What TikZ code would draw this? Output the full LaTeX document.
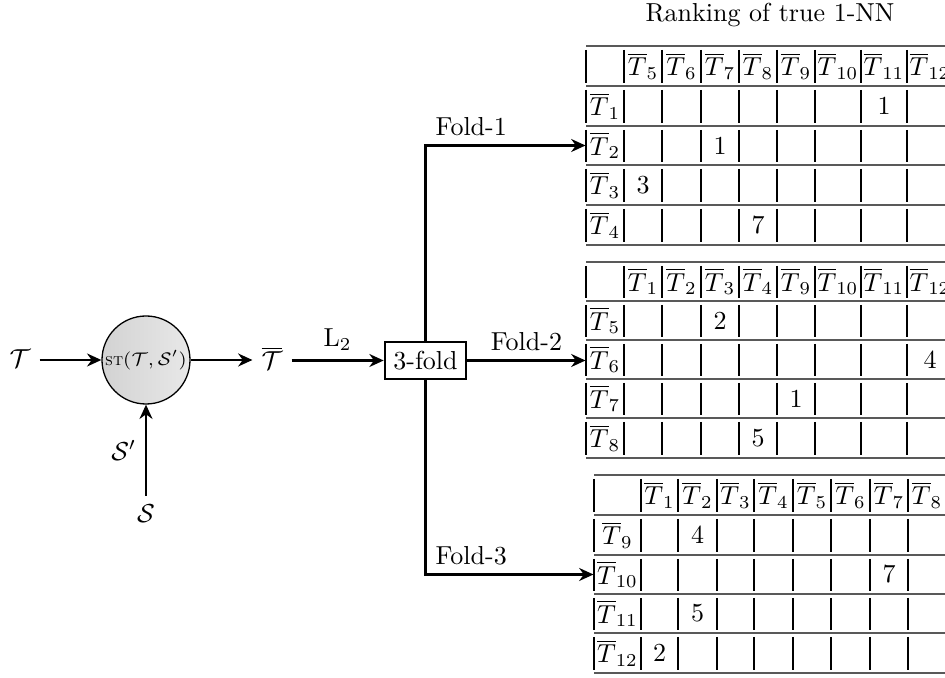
\documentclass[tikz,border=0pt]{standalone}
\usetikzlibrary{arrows.meta}
\begin{document}
\begin{tikzpicture}[x=0.3846pt,y=-0.3846pt,
  arr/.style={thick,-{Stealth[length=5.5pt,width=5pt]}},
  hrule/.style={black!65,line width=0.8pt},
  vrule/.style={black,line width=0.45pt},
  lbl/.style={inner sep=0pt}]
\useasboundingbox (0,0) rectangle (945,678);
\clip (0,0) rectangle (945,678);

% ---------- table 1 ----------
\foreach \y in {46,86,126,165,205,245} \draw[hrule] (586,\y) -- (960,\y);
\foreach \x in {586,624,662,701,739,777,815,861,907}
  \foreach \t/\b in {46/86,86/126,126/165,165/205,205/245}
    \draw[vrule] (\x,\t+4) -- (\x,\b-3);
\foreach \i/\x in {5/643,6/681.5,7/720,8/758,9/796,10/838,11/884,12/930}
  \node[lbl] (t1h\i) at (\x,66) {$\overline{T}_{\i}$};
\foreach \i/\y in {1/106,2/145.5,3/185,4/225}
  \node[lbl,minimum width=14.6pt] (t1r\i) at (605,\y) {$\overline{T}_{\i}$};
\node[lbl] (t1e1) at (884,106) {1};
\node[lbl] (t1e2) at (720,145.5) {1};
\node[lbl] (t1e3) at (643,185) {3};
\node[lbl] (t1e4) at (758,225) {7};

% ---------- table 2 ----------
\foreach \y in {262,301,340,379,418,458} \draw[hrule] (586,\y) -- (960,\y);
\foreach \x in {586,624,662,701,739,777,815,861,907}
  \foreach \t/\b in {262/301,301/340,340/379,379/418,418/458}
    \draw[vrule] (\x,\t+4) -- (\x,\b-3);
\foreach \i/\x in {1/643,2/681.5,3/720,4/758,9/796,10/838,11/884,12/930}
  \node[lbl] (t2h\i) at (\x,281.5) {$\overline{T}_{\i}$};
\foreach \i/\j/\y in {5/1/320.5,6/2/359.5,7/3/398.5,8/4/438}
  \node[lbl,minimum width=14.6pt] (t2r\j) at (605,\y) {$\overline{T}_{\i}$};
\node[lbl] (t2e1) at (720,320.5) {2};
\node[lbl] (t2e2) at (930,359.5) {4};
\node[lbl] (t2e3) at (796,398.5) {1};
\node[lbl] (t2e4) at (758,438) {5};

% ---------- table 3 ----------
\foreach \y in {475,515,555,594,633,673} \draw[hrule] (594,\y) -- (960,\y);
\foreach \x in {594,641,678,717,754,793,831,870,908}
  \foreach \t/\b in {475/515,515/555,555/594,594/633,633/673}
    \draw[vrule] (\x,\t+4) -- (\x,\b-3);
\foreach \i/\x in {1/659.5,2/697.5,3/735.5,4/773.5,5/812,6/850.5,7/889,8/927}
  \node[lbl] (t3h\i) at (\x,495) {$\overline{T}_{\i}$};
\foreach \i/\j/\y in {9/1/535,10/2/574.5,11/3/613.5,12/4/653}
  \node[lbl,minimum width=18.1pt] (t3r\j) at (617.5,\y) {$\overline{T}_{\i}$};
\node[lbl] (t3e1) at (697.5,535) {4};
\node[lbl] (t3e2) at (889,574.5) {7};
\node[lbl] (t3e3) at (697.5,613.5) {5};
\node[lbl] (t3e4) at (659.5,653) {2};

\node[anchor=base] (title) at (770,22) {Ranking of true 1-NN};

% ---------- flow ----------
\node (T) at (20,359) {$\mathcal{T}$};
\node[circle,draw,line width=0.5pt,left color=gray!35,right color=gray!18,
      minimum size=33.85pt,inner sep=0pt] (st) at (146,360)
      {\fontsize{6.6}{8}\selectfont\textsc{st}$(\mathcal{T},\mathcal{S}')$};
\node (Tb) at (272,358) {$\overline{\mathcal{T}}$};
\node[draw,thick,fill=white] (box) at (425.5,360.5) {3-fold};
\node (S) at (146,514) {$\mathcal{S}$};

\draw[arr] (T.east |- st.west) -- (st.west);
\draw[arr] (st.east) -- (st.east -| Tb.west);
\draw[arr] (Tb.east |- box.west) -- (box.west) node[midway,above] {$\mathrm{L}_2$};
\draw[arr] (S) -- (st) node[midway,left] {$\mathcal{S}'$};
\draw[arr] (box.north) |- (t1r2.west) node[pos=0.643,above] {Fold-1};
\draw[arr] (box.east) -- (box.east -| t2r2.west) node[midway,above] {Fold-2};
\draw[arr] (box.south) |- (t3r2.west) node[pos=0.636,above] {Fold-3};
\end{tikzpicture}
\end{document}
